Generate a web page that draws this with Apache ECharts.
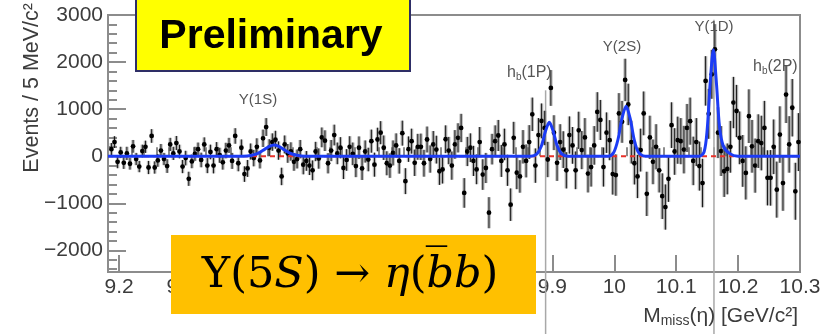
<!DOCTYPE html>
<html>
<head>
<meta charset="utf-8">
<script src="https://cdn.jsdelivr.net/npm/echarts@6/dist/echarts.min.js"></script>
<style>
  html, body { margin: 0; padding: 0; background: #fff; }
  #chart { width: 838px; height: 334px; }
</style>
</head>
<body>
<div id="chart"></div>
<script>
// Missing-mass spectrum of eta: 5 MeV bins starting at 9.185 GeV/c^2
const binStart = 9.185;
const binWidth = 0.005;

// Events per bin (background-subtracted)
const counts = [
  150, 300, -120, 80, -140, 60, -160, 210, -60, -220,
  110, 200, -240, 430, -240, -90, 120, -60, -210, 250,
  60, 280, 100, -220, -40, -480, -110, 50, 150, -80,
  250, -200, 90, -200, 150, 20, -130, 120, 230, -100,
  430, -150, 180, -380, -260, 100, -40, 200, -90, 380,
  620, 180, 300, 350, 120, -430, 250, 60, 100, -120,
  -60, 150, -180, -100, -200, -300, 100, -50, 400, 330,
  -150, 120, 450, 60, 180, -250, -80, 200, 50, -210,
  180, -260, 100, -70, 320, -180, 355, 500, 180, -150,
  -200, 70, 230, -100, 490, -530, 150, 320, -140, 200,
  200, -150, 355, -60, 250, 140, -320, -280, 360, 120,
  -200, 250, 390, 600, -780, 100, 180, -100, -280, 300,
  -390, -250, -1200, 150, 320, 440, -100, 250, -300, -1030,
  390, -350, -430, 200, -100, 300, 890, -200, 450, 750,
  600, -70, 1450, 500, -140, 300, 140, -300, 450, 230,
  -300, 550, 130, 400, -370, -230, 230, 940, 770, -230,
  500, 340, -380, -400, 910, 730, 1620, 1100, 300, -150,
  -430, 130, 910, -800, 400, -120, 200, -300, -850, -1080,
  -480, 660, 100, 340, 320, 140, 600, 745, -100, 300,
  -210, -570, 1600, 900, 1740, 2270, 500, 110, -320, -270,
  200, 1140, 960, 390, -100, -355, 850, 210, -200, 320,
  280, 600, -460, -460, 200, -710, 460, -570, 1310, 250,
  1030, -745, 300
];

// Statistical uncertainty per bin
const errors = [
  130, 125, 135, 120, 130, 140, 125, 135, 130, 120,
  135, 130, 140, 145, 130, 135, 140, 130, 145, 140,
  140, 150, 145, 140, 155, 150, 145, 150, 140, 155,
  150, 160, 155, 165, 150, 160, 155, 165, 160, 170,
  165, 170, 175, 165, 180, 170, 175, 180, 170, 185,
  190, 180, 185, 190, 195, 185, 190, 200, 195, 190,
  200, 195, 205, 210, 200, 210, 205, 215, 210, 220,
  215, 225, 220, 230, 225, 235, 230, 225, 240, 235,
  240, 245, 235, 250, 245, 255, 250, 245, 260, 255,
  260, 265, 255, 270, 265, 275, 270, 265, 280, 275,
  280, 285, 275, 290, 285, 295, 290, 300, 295, 290,
  300, 305, 310, 300, 315, 310, 305, 320, 315, 320,
  325, 320, 330, 325, 335, 330, 340, 335, 330, 345,
  340, 350, 345, 355, 350, 360, 355, 365, 360, 370,
  365, 375, 380, 370, 385, 380, 390, 385, 395, 390,
  400, 395, 405, 410, 400, 415, 410, 420, 425, 415,
  430, 425, 435, 440, 430, 445, 450, 440, 455, 450,
  460, 455, 465, 470, 460, 475, 480, 470, 485, 480,
  490, 485, 495, 500, 490, 505, 510, 500, 515, 510,
  520, 515, 525, 530, 520, 535, 540, 530, 545, 540,
  550, 545, 555, 560, 550, 565, 570, 560, 575, 570,
  580, 575, 585, 590, 580, 595, 600, 590, 605, 600,
  610, 605, 615
];

// Fitted signal + background curve (mass, events)
const fitMass = [
  9.182, 9.400, 9.415, 9.425, 9.435, 9.443, 9.450, 9.457, 9.465, 9.475, 9.487, 9.500,
  9.865, 9.875, 9.882, 9.889, 9.895, 9.901, 9.908, 9.915, 9.925,
  9.990, 9.999, 10.006, 10.012, 10.019, 10.026, 10.032, 10.039, 10.050,
  10.137, 10.145, 10.150, 10.155, 10.160, 10.165, 10.170, 10.176, 10.186, 10.200, 10.300
];
const fitValue = [
  0, 0, 20, 65, 145, 210, 240, 215, 150, 70, 20, 0,
  0, 50, 210, 540, 720, 540, 210, 50, 0,
  0, 80, 360, 780, 1060, 780, 360, 80, 0,
  0, 90, 560, 1580, 2260, 1550, 620, 220, 60, 0, 0
];

// Background component of the fit
const bkgMass = [9.182, 10.300];
const bkgValue = [0, 0];

// Reference lines at h_b(1P) and Upsilon(1D)
const guideMass = [9.889, 10.161];
const guideTop = [1400, 2900];

// Axis ticks
const xTicks = [9.2, 9.3, 9.4, 9.5, 9.6, 9.7, 9.8, 9.9, 10.0, 10.1, 10.2, 10.3];
const yTicks = [-2000, -1000, 0, 1000, 2000, 3000];

const xMinor = [];
for (let i = 0; i < xTicks.length - 1; i++) {
  for (let k = 1; k < 5; k++) xMinor.push(+(xTicks[i] + k * 0.02).toFixed(3));
}
const yMinor = [];
for (let v = -2400; v <= 3000; v += 200) if (v % 1000 !== 0) yMinor.push(v);

const points = counts.map((c, i) => [+(binStart + binWidth * (i + 0.5)).toFixed(4), c, errors[i]]);
const fitData = fitMass.map((m, i) => [m, fitValue[i]]);
const bkgData = bkgMass.map((m, i) => [m, bkgValue[i]]);
const guideData = guideMass.map((m, i) => [m, guideTop[i]]);

const AXIS = '#8c8c8c';
const LABEL = '#3c3c3c';
const SANS = 'Liberation Sans, Arial, sans-serif';
const SERIF = 'DejaVu Serif, Liberation Serif, serif';

const chart = echarts.init(document.getElementById('chart'), null, { renderer: 'canvas' });

const xMin = 9.182, xMax = 10.3, yMin = -2460, yMax = 3000;

const option = {
  animation: false,
  backgroundColor: '#ffffff',
  grid: {
    left: 108, right: 38, top: 15, bottom: 62,
    show: true, borderColor: AXIS, borderWidth: 2, backgroundColor: 'transparent'
  },
  xAxis: [
    {
      type: 'value', min: xMin, max: xMax, position: 'bottom',
      axisLine: { show: true, onZero: false, lineStyle: { color: AXIS, width: 2 } },
      axisTick: { show: true, inside: true, length: 17, customValues: xTicks, lineStyle: { color: AXIS, width: 2 } },
      axisLabel: {
        customValues: xTicks, fontSize: 21, color: LABEL, fontFamily: SANS, margin: 5,
        formatter: v => String(+(+v).toFixed(1))
      },
      splitLine: { show: false }
    },
    {
      type: 'value', min: xMin, max: xMax, position: 'bottom',
      axisLine: { show: false },
      axisTick: { show: true, inside: true, length: 9, customValues: xMinor, lineStyle: { color: AXIS, width: 2 } },
      axisLabel: { show: false },
      splitLine: { show: false }
    }
  ],
  yAxis: [
    {
      type: 'value', min: yMin, max: yMax, position: 'left',
      axisLine: { show: true, onZero: false, lineStyle: { color: AXIS, width: 2 } },
      axisTick: { show: true, inside: true, length: 18, customValues: yTicks, lineStyle: { color: AXIS, width: 2 } },
      axisLabel: {
        customValues: yTicks, fontSize: 21, color: LABEL, fontFamily: SANS, margin: 5,
        formatter: v => (v < 0 ? '\u2212' + Math.abs(v) : String(v))
      },
      splitLine: { show: false }
    },
    {
      type: 'value', min: yMin, max: yMax, position: 'left',
      axisLine: { show: false },
      axisTick: { show: true, inside: true, length: 9, customValues: yMinor, lineStyle: { color: AXIS, width: 2 } },
      axisLabel: { show: false },
      splitLine: { show: false }
    }
  ],
  series: [
    {
      // vertical guide lines running down to the bottom edge
      type: 'custom', name: 'guides', xAxisIndex: 0, yAxisIndex: 0, clip: false, z: 1,
      data: guideData,
      renderItem: (params, api) => {
        const p = api.coord([api.value(0), api.value(1)]);
        return {
          type: 'line',
          shape: { x1: p[0], y1: p[1], x2: p[0], y2: api.getHeight() },
          style: { stroke: '#a8a8a8', lineWidth: 1.5 }
        };
      }
    },
    {
      type: 'custom', name: 'data', xAxisIndex: 0, yAxisIndex: 0, z: 2,
      data: points,
      renderItem: (params, api) => {
        const x = api.value(0), v = api.value(1), e = api.value(2);
        const c = api.coord([x, v]);
        const t = api.coord([x, v + e]);
        const b = api.coord([x, v - e]);
        return {
          type: 'group',
          children: [
            { type: 'rect', shape: { x: c[0] - 1.7, y: t[1], width: 3.4, height: b[1] - t[1] },
              style: { fill: 'rgba(95,95,95,0.45)' } },
            { type: 'line', shape: { x1: c[0], y1: t[1], x2: c[0], y2: b[1] },
              style: { stroke: '#1a1a1a', lineWidth: 1 } },
            { type: 'circle', shape: { cx: c[0], cy: c[1], r: 2.4 }, style: { fill: '#000' } }
          ]
        };
      }
    },
    {
      type: 'line', name: 'background', xAxisIndex: 0, yAxisIndex: 0, z: 4,
      data: bkgData, showSymbol: false,
      lineStyle: { color: '#e8322a', width: 2, type: [5, 4] }
    },
    {
      type: 'line', name: 'fit', xAxisIndex: 0, yAxisIndex: 0, z: 5,
      data: fitData, showSymbol: false, smooth: 0.3,
      lineStyle: { color: '#1c3cf5', width: 3 }
    }
  ],
  graphic: [
    // axis titles
    {
      type: 'text', x: 32, y: 3, rotation: Math.PI / 2, z: 50,
      style: { text: 'Events / 5 MeV/c\u00b2', font: '21.5px ' + SANS, fill: LABEL, align: 'right', verticalAlign: 'middle' }
    },
    {
      type: 'text', x: 798, y: 316, z: 50,
      style: {
        text: '{m|M}{s|miss}{m|(\u03b7) [GeV/c\u00b2]}', align: 'right', verticalAlign: 'middle',
        rich: {
          m: { fontSize: 21, fontFamily: SANS, fill: LABEL, lineHeight: 24 },
          s: { fontSize: 14, fontFamily: SANS, fill: LABEL, lineHeight: 12, verticalAlign: 'bottom' }
        }
      }
    },
    // resonance labels
    { type: 'text', x: 258, y: 100, z: 50,
      style: { text: '\u03a5(1S)', font: '15px ' + SANS, fill: '#555', align: 'center', verticalAlign: 'middle' } },
    { type: 'text', x: 507, y: 73, z: 50,
      style: { text: '{m|h}{s|b}{m|(1P)}', align: 'left', verticalAlign: 'middle',
        rich: { m: { fontSize: 16, fontFamily: SANS, fill: '#555', lineHeight: 18 },
                s: { fontSize: 10, fontFamily: SANS, fill: '#555', lineHeight: 10, verticalAlign: 'bottom' } } } },
    { type: 'text', x: 622, y: 47, z: 50,
      style: { text: '\u03a5(2S)', font: '15px ' + SANS, fill: '#555', align: 'center', verticalAlign: 'middle' } },
    { type: 'text', x: 714, y: 27, z: 50,
      style: { text: '\u03a5(1D)', font: '15px ' + SANS, fill: '#555', align: 'center', verticalAlign: 'middle' } },
    { type: 'text', x: 753, y: 67, z: 50,
      style: { text: '{m|h}{s|b}{m|(2P)}', align: 'left', verticalAlign: 'middle',
        rich: { m: { fontSize: 16, fontFamily: SANS, fill: '#555', lineHeight: 18 },
                s: { fontSize: 10, fontFamily: SANS, fill: '#555', lineHeight: 10, verticalAlign: 'bottom' } } } },
    // "Preliminary" stamp
    { type: 'rect', z: 100, shape: { x: 136, y: -1, width: 274, height: 72 },
      style: { fill: '#ffff00', stroke: '#2e2e66', lineWidth: 2 } },
    { type: 'text', z: 101, x: 271, y: 37,
      style: { text: 'Preliminary', font: 'bold 41px ' + SANS, fill: '#000', align: 'center', verticalAlign: 'middle' } },
    // decay channel banner
    { type: 'rect', z: 100, shape: { x: 171, y: 235, width: 365, height: 79 },
      style: { fill: '#ffc000' } },
    { type: 'text', z: 101, x: 350, y: 276,
      style: {
        text: '{u|\u03a5(5}{i|S}{u|) \u2192 }{i|\u03b7}{u|(}{i|b\u0305b}{u|)}',
        align: 'center', verticalAlign: 'middle',
        rich: {
          u: { fontSize: 43, fontFamily: SERIF, fill: '#000', lineHeight: 52 },
          i: { fontSize: 43, fontFamily: SERIF, fontStyle: 'italic', fill: '#000', lineHeight: 52 }
        }
      }
    }
  ]
};

chart.setOption(option);
</script>
</body>
</html>
